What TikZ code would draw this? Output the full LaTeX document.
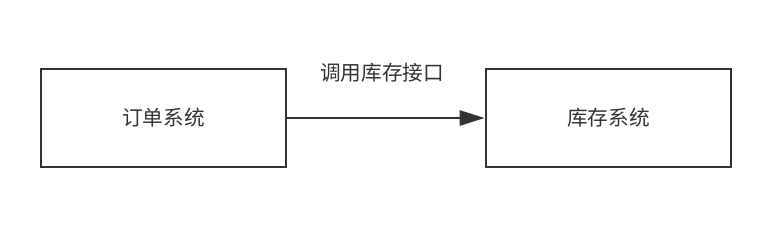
\documentclass[tikz,border=0pt]{standalone}
\usepackage{fontspec}
\newfontfamily\cjk{Noto Sans CJK SC}
\usetikzlibrary{arrows.meta}

\tikzset{
    sysbox/.style={draw=black!80, line width=2.6*0.75pt, minimum width=245*0.75pt,
        minimum height=98*0.75pt, inner sep=0pt, text=black!80, font=\cjk\fontsize{15.5}{17}\selectfont},
    calllabel/.style={text=black!80, font=\cjk\fontsize{15.5}{17}\selectfont}
}

\begin{document}
\begin{tikzpicture}[x=0.75pt,y=-0.75pt]

\useasboundingbox (0,0) rectangle (772,240);

\node[sysbox] (order) at (163.5,118) {订单系统};
\node[sysbox] (stock) at (608.5,118) {库存系统};

\draw[draw=black!80, line width=2.6*0.75pt,
    -{Triangle[length=25*0.75pt,width=15*0.75pt]}]
(order.east)--(stock.west);

\node[calllabel] (call) at (382,73) {调用库存接口};

\end{tikzpicture}
\end{document}
